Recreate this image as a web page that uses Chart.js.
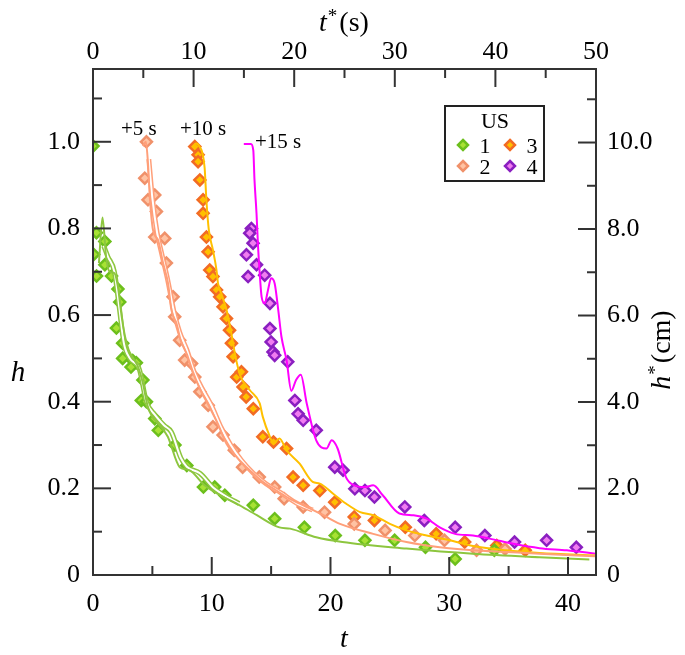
<!DOCTYPE html>
<html>
<head>
<meta charset="utf-8">
<script src="https://cdn.jsdelivr.net/npm/chart.js@4.4.1/dist/chart.umd.min.js"></script>
<style>
  html, body { margin: 0; padding: 0; background: #fff; }
  #wrap { width: 685px; height: 655px; }
</style>
</head>
<body>
<div id="wrap"><canvas id="grafico" width="685" height="655"></canvas></div>
<script>
// Séries medidas (pontos) - t adimensional e h adimensional
const t1 = [0, 0.06, 0.3, 0.29, 1.0, 1.0, 1.56, 2.1, 2.25, 1.97, 2.5, 2.5, 3.34, 3.65, 3.2, 4.2, 4.07, 4.5, 5.2, 5.5, 6.9, 7.9, 9.3, 10.25, 11.1, 13.5, 15.3, 17.8, 20.4, 22.9, 25.4, 28.0, 30.5, 33.8];
const h1 = [0.99, 0.74, 0.69, 0.79, 0.77, 0.716, 0.69, 0.66, 0.63, 0.57, 0.535, 0.50, 0.495, 0.49, 0.48, 0.45, 0.403, 0.40, 0.361, 0.334, 0.30, 0.253, 0.203, 0.203, 0.184, 0.161, 0.13, 0.11, 0.091, 0.08, 0.08, 0.064, 0.037, 0.057];

const t2 = [4.5, 4.36, 4.63, 5.2, 5.34, 5.2, 6.04, 6.18, 6.74, 6.88, 7.3, 7.72, 8.3, 8.57, 9.0, 9.7, 10.1, 10.95, 11.9, 12.6, 14.0, 15.3, 16.1, 17.7, 19.5, 22.0, 24.6, 27.1, 29.6, 32.3, 34.7];
const h2 = [1.0, 0.916, 0.866, 0.877, 0.839, 0.78, 0.777, 0.72, 0.642, 0.596, 0.542, 0.496, 0.488, 0.457, 0.423, 0.392, 0.342, 0.323, 0.288, 0.249, 0.226, 0.203, 0.176, 0.157, 0.145, 0.118, 0.103, 0.091, 0.08, 0.057, 0.06];

const t3 = [8.57, 8.85, 8.85, 9.0, 9.27, 9.27, 9.55, 9.69, 9.83, 10.1, 10.4, 10.67, 10.95, 11.24, 11.5, 11.66, 11.8, 12.1, 12.5, 12.64, 12.9, 13.5, 14.3, 15.2, 16.3, 16.85, 17.7, 19.1, 20.36, 22.0, 23.7, 26.3, 28.9, 31.3, 34.0, 36.4];
const h3 = [0.989, 0.97, 0.954, 0.912, 0.866, 0.835, 0.78, 0.746, 0.704, 0.689, 0.658, 0.642, 0.619, 0.592, 0.565, 0.535, 0.504, 0.457, 0.469, 0.434, 0.411, 0.384, 0.319, 0.307, 0.292, 0.226, 0.207, 0.195, 0.168, 0.134, 0.126, 0.11, 0.095, 0.076, 0.068, 0.057];

const t4 = [13.34, 13.2, 13.48, 12.92, 13.77, 13.06, 14.46, 14.9, 14.9, 15.0, 15.16, 16.4, 15.3, 17.0, 17.27, 17.7, 18.8, 20.36, 21.06, 22.05, 22.9, 23.7, 26.26, 27.9, 30.5, 33.0, 35.5, 38.2, 40.7];
const h4 = [0.80, 0.789, 0.766, 0.739, 0.716, 0.689, 0.692, 0.627, 0.569, 0.538, 0.515, 0.492, 0.507, 0.403, 0.372, 0.357, 0.334, 0.249, 0.242, 0.199, 0.195, 0.18, 0.157, 0.126, 0.11, 0.091, 0.076, 0.08, 0.064];

// Curvas simuladas (linhas cheias)
const lt1 = [0.5, 0.8, 1.1, 1.4, 1.8, 2.1, 2.4, 2.7, 3.0, 3.4, 3.8, 4.2, 4.6, 5.0, 5.6, 6.3, 7.3, 8.1, 9.4, 10.7, 12.1, 13.8, 15.7, 16.6, 18.8, 21.0, 26.4, 32.0, 37.6, 41.8];
const lh1 = [0.72, 0.825, 0.735, 0.70, 0.697, 0.665, 0.60, 0.55, 0.52, 0.50, 0.48, 0.443, 0.39, 0.365, 0.346, 0.319, 0.249, 0.242, 0.207, 0.184, 0.165, 0.138, 0.11, 0.107, 0.087, 0.076, 0.061, 0.049, 0.041, 0.036];

const lt2 = [4.2, 4.45, 4.63, 4.78, 5.05, 5.48, 5.9, 6.32, 6.6, 7.03, 7.4, 7.9, 8.4, 9.0, 9.8, 10.5, 11.24, 12.1, 13.2, 14.3, 15.45, 16.57, 18.0, 19.4, 20.8, 23.6, 26.4, 29.2, 32.0, 34.8, 37.6, 42.3];
const lh2 = [0.99, 1.0, 0.951, 0.874, 0.797, 0.773, 0.72, 0.673, 0.612, 0.581, 0.54, 0.51, 0.47, 0.43, 0.388, 0.35, 0.303, 0.272, 0.242, 0.215, 0.195, 0.176, 0.157, 0.138, 0.118, 0.095, 0.076, 0.064, 0.057, 0.053, 0.049, 0.043];

const lt3 = [8.6, 8.95, 9.4, 9.55, 9.75, 10.1, 10.4, 10.53, 10.8, 11.24, 11.6, 12.0, 12.4, 13.2, 14.04, 14.3, 14.9, 15.2, 15.7, 16.3, 17.4, 18.5, 19.1, 20.2, 21.3, 22.5, 23.6, 25.0, 26.4, 28.1, 30.05, 32.0, 34.8, 37.6, 42.4];
const lh3 = [0.997, 0.99, 0.94, 0.865, 0.797, 0.75, 0.704, 0.673, 0.65, 0.612, 0.565, 0.504, 0.46, 0.427, 0.396, 0.365, 0.319, 0.303, 0.315, 0.288, 0.257, 0.215, 0.211, 0.188, 0.165, 0.145, 0.138, 0.118, 0.103, 0.091, 0.08, 0.067, 0.057, 0.051, 0.045];

const lt4 = [12.7, 13.3, 13.5, 13.6, 13.77, 13.9, 14.04, 14.2, 14.46, 14.74, 15.0, 15.3, 15.6, 15.87, 16.3, 16.7, 17.1, 17.5, 18.0, 18.8, 19.66, 20.1, 20.6, 21.3, 22.0, 22.9, 23.6, 24.4, 25.8, 27.0, 28.1, 29.2, 30.5, 32.0, 33.4, 35.4, 37.6, 39.9, 42.4];
const lh4 = [0.995, 0.995, 0.98, 0.912, 0.835, 0.758, 0.696, 0.642, 0.627, 0.658, 0.685, 0.673, 0.612, 0.55, 0.496, 0.425, 0.45, 0.462, 0.396, 0.311, 0.292, 0.311, 0.292, 0.226, 0.207, 0.203, 0.207, 0.184, 0.142, 0.138, 0.13, 0.11, 0.095, 0.091, 0.084, 0.072, 0.062, 0.057, 0.049];

// Segunda simulação (linha dupla) para US 1 e US 2
const dt1 = [0.9, 1.25, 1.8, 2.2, 2.6, 3.1, 3.9, 4.5, 5.2, 6.0, 6.6, 7.4, 7.9, 9.0, 10.2, 11.5, 12.3];
const dh1 = [0.76, 0.735, 0.70, 0.62, 0.535, 0.50, 0.475, 0.40, 0.37, 0.345, 0.33, 0.27, 0.25, 0.235, 0.20, 0.177, 0.165];
const dt2 = [4.7, 5.0, 5.4, 5.8, 6.3, 6.8, 7.3, 7.9, 8.5, 9.2, 10.0, 10.8, 11.6, 12.5, 13.5, 14.6, 15.8, 17.2, 18.5];
const dh2 = [0.96, 0.87, 0.79, 0.74, 0.68, 0.61, 0.56, 0.52, 0.47, 0.43, 0.39, 0.34, 0.30, 0.265, 0.235, 0.21, 0.19, 0.165, 0.15];

// Rótulos
const legendaNomes = ['1', '2', '3', '4'];
const atrasos = ['+5 s', '+10 s', '+15 s'];

// Cores: borda do marcador, preenchimento do marcador, linha
const corBorda = ['#6cbf1c', '#f0916a', '#f26b24', '#8a1fc0'];
const corFundo = ['#a8e234', '#ffc3a3', '#ffc000', '#f07cf0'];
const corLinha = ['#8dc63f', '#ff9f79', '#ffc000', '#ff00ff'];

const fonte = '"Liberation Serif", "Times New Roman", serif';

function pts(ts, hs) {
  return ts.map(function(t, i) { return { x: t, y: hs[i] }; });
}

const medidos = [[t1, h1], [t2, h2], [t3, h3], [t4, h4]];
const simulados = [[lt1, lh1], [lt2, lh2], [lt3, lh3], [lt4, lh4]];
const duplos = [[dt1, dh1, 0], [dt2, dh2, 1]];

let datasets = [];
medidos.forEach(function(s, i) {
  datasets.push({
    label: 'US ' + legendaNomes[i],
    data: pts(s[0], s[1]),
    showLine: false,
    pointStyle: 'rectRot',
    pointRadius: 5.5,
    pointBorderWidth: 2.5,
    borderColor: corBorda[i],
    backgroundColor: corFundo[i],
    order: 5
  });
});
duplos.forEach(function(s) {
  datasets.push({
    data: pts(s[0], s[1]), showLine: true, pointRadius: 0,
    borderColor: corLinha[s[2]], borderWidth: 5, cubicInterpolationMode: 'monotone', order: 3
  });
  datasets.push({
    data: pts(s[0], s[1]), showLine: true, pointRadius: 0,
    borderColor: '#ffffff', borderWidth: 2, cubicInterpolationMode: 'monotone', order: 2
  });
});
simulados.forEach(function(s, i) {
  datasets.push({
    data: pts(s[0], s[1]), showLine: true, pointRadius: 0,
    borderColor: corLinha[i], borderWidth: 2, cubicInterpolationMode: 'monotone', order: 0
  });
});

// fundo branco
const fundo = {
  id: 'fundo',
  beforeDraw(chart) {
    const ctx = chart.ctx;
    ctx.save();
    ctx.fillStyle = '#fff';
    ctx.fillRect(0, 0, chart.width, chart.height);
    ctx.restore();
  }
};

// moldura, marcas para dentro, títulos, legenda e anotações
const extras = {
  id: 'extras',
  afterDraw(chart) {
    const ctx = chart.ctx;
    const a = chart.chartArea;
    const s = chart.scales;
    ctx.save();
    ctx.strokeStyle = '#333';
    ctx.lineWidth = 2;

    function linha(x1, y1, x2, y2) {
      ctx.beginPath(); ctx.moveTo(x1, y1); ctx.lineTo(x2, y2); ctx.stroke();
    }
    // marcas dos eixos
    function marcas(escala, passo, lado) {
      for (let k = 1; escala.min + k * passo < escala.max - 1e-9; k++) {
        const v = escala.min + k * passo;
        const p = escala.getPixelForValue(v);
        const grande = (k % 2 === 0);
        const L = grande ? 18 : 9;
        if (lado === 'bottom') linha(p, a.bottom, p, a.bottom - L);
        if (lado === 'top') linha(p, a.top, p, a.top + L);
        if (lado === 'left') linha(a.left, p, a.left + L, p);
        if (lado === 'right') linha(a.right, p, a.right - L, p);
      }
    }
    marcas(s.x, 5, 'bottom');
    marcas(s.x2, 5, 'top');
    marcas(s.y, 0.1, 'left');
    marcas(s.y2, 1, 'right');
    ctx.strokeRect(a.left, a.top, a.right - a.left, a.bottom - a.top);

    ctx.fillStyle = '#000';
    ctx.textBaseline = 'alphabetic';

    // título superior t*(s)
    ctx.font = 'italic 28px ' + fonte;
    const wT = ctx.measureText('t').width;
    ctx.font = '19px ' + fonte;
    const wA = ctx.measureText('*').width;
    ctx.font = '28px ' + fonte;
    const wS = ctx.measureText('(s)').width;
    let x0 = 344 - (wT + wA + 3 + wS) / 2;
    ctx.textAlign = 'left';
    ctx.font = 'italic 28px ' + fonte; ctx.fillText('t', x0, 31);
    ctx.font = '19px ' + fonte; ctx.fillText('*', x0 + wT + 1, 22);
    ctx.font = '28px ' + fonte; ctx.fillText('(s)', x0 + wT + wA + 3, 31);

    // título inferior t
    ctx.textAlign = 'center';
    ctx.font = 'italic 28px ' + fonte;
    ctx.fillText('t', 344, 647);

    // título esquerdo h
    ctx.font = 'italic 29px ' + fonte;
    ctx.fillText('h', 18, 381);

    // título direito h*(cm), rodado
    ctx.save();
    ctx.translate(670, 350);
    ctx.rotate(-Math.PI / 2);
    ctx.font = 'italic 28px ' + fonte;
    const wH = ctx.measureText('h').width;
    ctx.font = '28px ' + fonte;
    const wC = ctx.measureText('(cm)').width;
    x0 = -(wH + wA + 3 + wC) / 2;
    ctx.textAlign = 'left';
    ctx.font = 'italic 28px ' + fonte; ctx.fillText('h', x0, 0);
    ctx.font = '19px ' + fonte; ctx.fillText('*', x0 + wH + 1, -9);
    ctx.font = '28px ' + fonte; ctx.fillText('(cm)', x0 + wH + wA + 3, 0);
    ctx.restore();

    // anotações de atraso
    ctx.font = '21px ' + fonte;
    ctx.textAlign = 'left';
    ctx.fillText(atrasos[0], 121, 135);
    ctx.fillText(atrasos[1], 180, 135);
    ctx.fillText(atrasos[2], 255, 148);

    // legenda
    ctx.lineWidth = 2;
    ctx.strokeStyle = '#222';
    ctx.fillStyle = '#fff';
    ctx.fillRect(445, 106, 99, 75);
    ctx.strokeRect(445, 106, 99, 75);
    ctx.fillStyle = '#000';
    ctx.textAlign = 'center';
    ctx.font = '22px ' + fonte;
    ctx.fillText('US', 495, 128);
    const posX = [463, 463, 510, 510];
    const posY = [145, 166, 145, 166];
    legendaNomes.forEach(function(nome, i) {
      const cx = posX[i], cy = posY[i], r = 5;
      ctx.beginPath();
      ctx.moveTo(cx, cy - r); ctx.lineTo(cx + r, cy); ctx.lineTo(cx, cy + r); ctx.lineTo(cx - r, cy); ctx.closePath();
      ctx.fillStyle = corFundo[i]; ctx.fill();
      ctx.lineWidth = 2.5; ctx.strokeStyle = corBorda[i]; ctx.stroke();
      ctx.fillStyle = '#000';
      ctx.fillText(nome, cx + 22, cy + 8);
    });
    ctx.restore();
  }
};

function fmt(v) {
  return v === 0 ? '0' : v.toFixed(1);
}

const fonteTicks = { family: fonte, size: 26 };
const semGrade = { display: false, drawTicks: false };

var ctxGrafico = document.getElementById('grafico').getContext('2d');
var grafico = new Chart(ctxGrafico, {
  type: 'scatter',
  data: { datasets: datasets },
  options: {
    responsive: false,
    animation: false,
    devicePixelRatio: 1,
    events: [],
    layout: { padding: 0 },
    plugins: { legend: { display: false }, tooltip: { enabled: false } },
    scales: {
      x: {
        type: 'linear', position: 'bottom', min: 0, max: 42.36,
        grid: semGrade, border: { display: false },
        ticks: { stepSize: 10, includeBounds: false, padding: 14, maxRotation: 0, color: '#000', font: fonteTicks },
        afterFit: function(sc) { sc.height = 80; }
      },
      x2: {
        type: 'linear', position: 'top', min: 0, max: 50, display: true,
        grid: semGrade, border: { display: false },
        ticks: { stepSize: 10, padding: 1, maxRotation: 0, color: '#000', font: fonteTicks },
        afterFit: function(sc) { sc.height = 69; }
      },
      y: {
        type: 'linear', position: 'left', min: 0, max: 1.168,
        grid: semGrade, border: { display: false },
        ticks: { stepSize: 0.2, includeBounds: false, padding: 13, color: '#000', font: fonteTicks, callback: fmt },
        afterFit: function(sc) { sc.width = 93; }
      },
      y2: {
        type: 'linear', position: 'right', min: 0, max: 11.7, display: true,
        grid: semGrade, border: { display: false },
        ticks: { stepSize: 2, includeBounds: false, padding: 11, color: '#000', font: fonteTicks, callback: fmt },
        afterFit: function(sc) { sc.width = 89; }
      }
    }
  },
  plugins: [fundo, extras]
});
</script>
</body>
</html>
